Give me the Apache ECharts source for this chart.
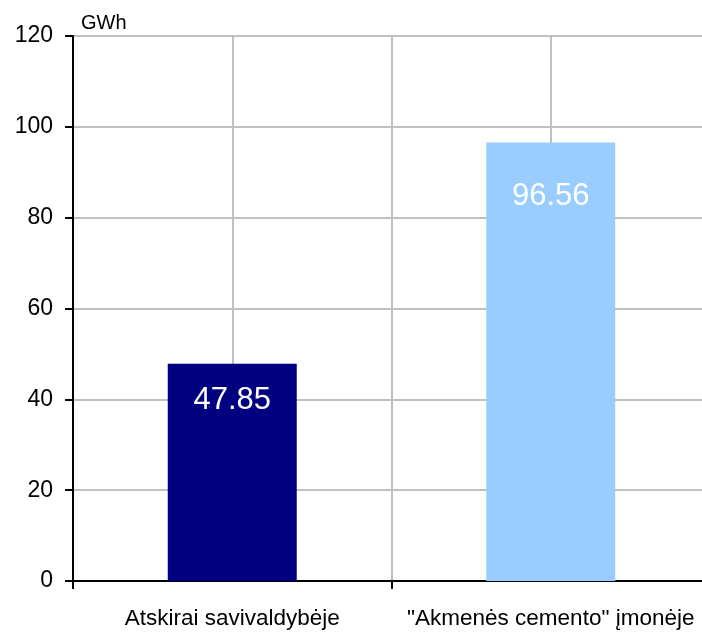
<!DOCTYPE html>
<html>
<head>
<meta charset="utf-8">
<script src="https://cdn.jsdelivr.net/npm/echarts@6/dist/echarts.min.js"></script>
<style>html,body{margin:0;padding:0;background:#fff}#c{width:702px;height:632px}</style>
</head>
<body>
<div id="c"></div>
<script>
var categories = ['Atskirai savivaldybėje', '"Akmenės cemento" įmonėje'];
var values = [47.85, 96.56];
var unitLabel = 'GWh';
var yTicks = {min: 0, max: 120, interval: 20};

var barColors = ['#000080', '#99CCFF'];
var labelDistances = [21, 38];
var font = '"Liberation Sans", Arial, sans-serif';

var chart = echarts.init(document.getElementById('c'), null, {renderer: 'canvas'});
chart.setOption({
  animation: false,
  backgroundColor: '#ffffff',
  grid: {left: 73, top: 36, height: 545, width: 637, containLabel: false, outerBoundsMode: 'none'},
  xAxis: [{
    type: 'category',
    data: categories,
    boundaryGap: true,
    axisLine: {show: true, onZero: false, lineStyle: {color: '#000', width: 2}},
    axisTick: {show: true, length: 8, lineStyle: {color: '#000', width: 2}, alignWithLabel: false},
    axisLabel: {color: '#000', fontSize: 22.5, fontFamily: font, margin: 26, interval: 0, hideOverlap: false},
    splitLine: {show: false}
  }, {
    type: 'category',
    data: ['', '', '', ''],
    position: 'bottom',
    boundaryGap: true,
    axisLine: {show: false},
    axisTick: {show: false},
    axisLabel: {show: false},
    splitLine: {show: true, lineStyle: {color: '#c0c0c0', width: 2}}
  }],
  yAxis: {
    type: 'value',
    min: yTicks.min, max: yTicks.max, interval: yTicks.interval,
    name: unitLabel,
    nameLocation: 'end',
    nameGap: 3,
    nameTextStyle: {color: '#000', fontSize: 20, fontFamily: font, align: 'left', verticalAlign: 'bottom', padding: [0, 0, 0, 8]},
    axisLine: {show: true, lineStyle: {color: '#000', width: 2}},
    axisTick: {show: true, length: 8, lineStyle: {color: '#000', width: 2}},
    axisLabel: {color: '#000', fontSize: 23, fontFamily: font, margin: 20},
    splitLine: {show: true, lineStyle: {color: '#c0c0c0', width: 2}}
  },
  series: [{
    type: 'bar',
    xAxisIndex: 0,
    barWidth: '40.5%',
    data: values.map(function (v, i) {
      return {
        value: v,
        itemStyle: {color: barColors[i]},
        label: {distance: labelDistances[i]}
      };
    }),
    label: {
      show: true,
      position: 'insideTop',
      color: '#fff',
      fontSize: 31,
      fontFamily: font,
      formatter: function (p) { return p.value.toFixed(2); }
    }
  }]
});
</script>
</body>
</html>
